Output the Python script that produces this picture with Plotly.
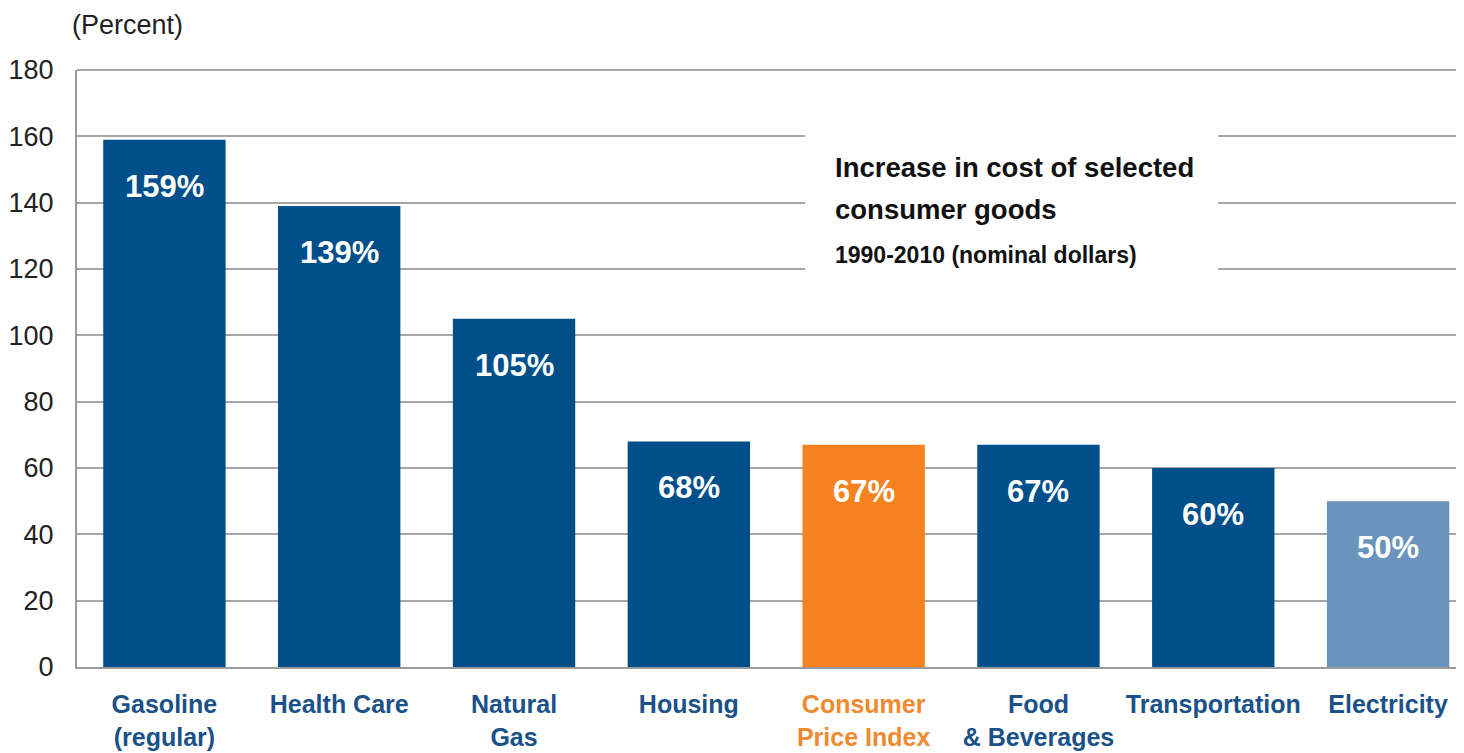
import plotly.graph_objects as go

categories = ["Gasoline<br>(regular)", "Health Care", "Natural<br>Gas", "Housing",
              "Consumer<br>Price Index", "Food<br>& Beverages", "Transportation", "Electricity"]
values = [159, 139, 105, 68, 67, 67, 60, 50]
labels = ["159%", "139%", "105%", "68%", "67%", "67%", "60%", "50%"]
bar_colors = ["#004F8A", "#004F8A", "#004F8A", "#004F8A", "#F5821F", "#004F8A", "#004F8A", "#6A93BE"]
label_colors = ["#1B5189", "#1B5189", "#1B5189", "#1B5189", "#F08A2E", "#1B5189", "#1B5189", "#1B5189"]
y_ticks = [0, 20, 40, 60, 80, 100, 120, 140, 160, 180]

FONT = "Liberation Sans Narrow, Arial Narrow, Liberation Sans, Arial, sans-serif"

x_idx = list(range(len(categories)))
ticktext = [f"<span style='color:{c}'><b>{t}</b></span>" for t, c in zip(categories, label_colors)]

fig = go.Figure()
fig.add_trace(go.Bar(x=x_idx, y=values, marker=dict(color=bar_colors, line=dict(width=0)),
                     hoverinfo="skip", showlegend=False))

for i, (v, t) in enumerate(zip(values, labels)):
    fig.add_annotation(x=i, y=v, text=f"<b>{t}</b>", showarrow=False, yanchor="top", yshift=-27,
                       font=dict(family=FONT, size=31, color="white"))

# top border of the plot area
fig.add_shape(type="line", xref="paper", yref="paper", x0=0, x1=1, y0=1, y1=1,
              line=dict(color="#A6A6A6", width=2), layer="above")

# white box behind chart title
fig.add_shape(type="rect", xref="paper", yref="y", x0=0.522, x1=0.818, y0=113.7, y1=163.4,
              fillcolor="white", line=dict(width=0), layer="above")

fig.add_annotation(xref="paper", yref="paper", x=0.542, y=0.836, xanchor="left", yanchor="middle",
                   text="<b>Increase in cost of selected</b>", showarrow=False,
                   font=dict(family=FONT, size=27.5, color="#111111"))
fig.add_annotation(xref="paper", yref="paper", x=0.542, y=0.767, xanchor="left", yanchor="middle",
                   text="<b>consumer goods</b>", showarrow=False,
                   font=dict(family=FONT, size=27.5, color="#111111"))
fig.add_annotation(xref="paper", yref="paper", x=0.542, y=0.690, xanchor="left", yanchor="middle",
                   text="<b>1990-2010 (nominal dollars)</b>", showarrow=False,
                   font=dict(family=FONT, size=23, color="#111111"))
fig.add_annotation(xref="paper", yref="paper", x=-0.005, y=1.075, xanchor="left", yanchor="middle",
                   text="(Percent)", showarrow=False,
                   font=dict(family=FONT, size=27, color="#222222"))

fig.update_layout(
    width=1464, height=753,
    margin=dict(l=69, r=0, t=62, b=94),
    paper_bgcolor="white", plot_bgcolor="white",
    bargap=0.30,
    font=dict(family=FONT),
    xaxis=dict(tickmode="array", tickvals=x_idx, ticktext=ticktext, range=[-0.5, 7.48],
               showgrid=False, showline=True, linecolor="#9A9A9A", linewidth=2, ticks="",
               tickfont=dict(family=FONT, size=25), ticklabelstandoff=14, fixedrange=True),
    yaxis=dict(range=[0, 180], tickmode="array", tickvals=y_ticks, showgrid=True,
               gridcolor="#A6A6A6", gridwidth=2, showline=True, linecolor="#9A9A9A", linewidth=2,
               zeroline=False, ticks="", tickfont=dict(family=FONT, size=27, color="#222222"),
               ticklabelstandoff=16, fixedrange=True),
)

fig.write_html("out.html")
